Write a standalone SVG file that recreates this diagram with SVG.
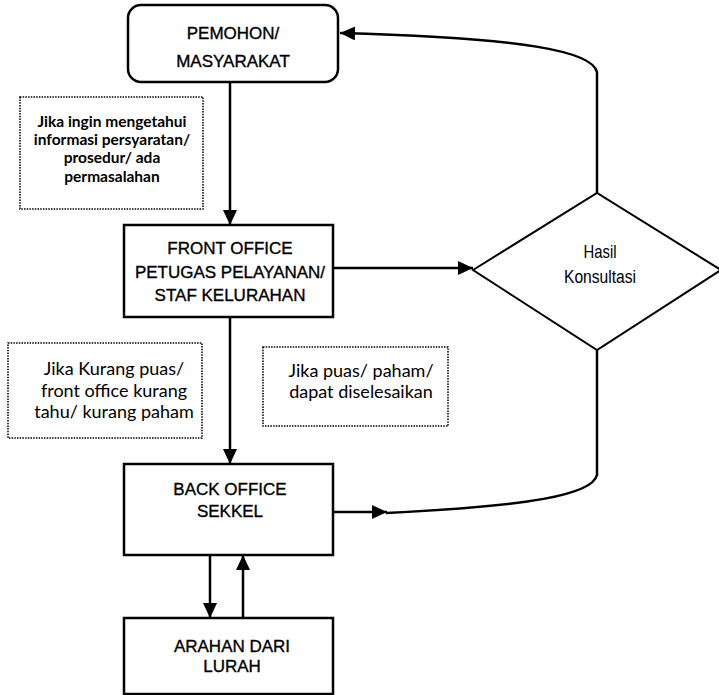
<svg xmlns="http://www.w3.org/2000/svg" width="719" height="695" viewBox="0 0 719 695">
  <style>
    .box { fill: #fff; stroke: #000; stroke-width: 2.5; }
    .note { fill: #fff; stroke: #000; stroke-width: 1.5; stroke-dasharray: 1.5 1.2; }
    .dia { fill: #fff; stroke: #000; stroke-width: 2; }
    .lbl { font-family: "Liberation Sans", Arial, sans-serif; font-size: 17px; fill: #000; stroke: #000; stroke-width: 0.35; text-anchor: middle; }
    .ntxt { font-family: Lato, "Liberation Sans", sans-serif; font-size: 18px; fill: #000; text-anchor: middle; }
    .nb { font-weight: bold; font-size: 15.5px; }
    .dtxt { font-family: "Liberation Sans", Arial, sans-serif; font-size: 19px; fill: #000; text-anchor: middle; }
    .con { fill: none; stroke: #000; stroke-width: 2.5; }
  </style>
  <defs>
    <marker id="arrow" markerUnits="userSpaceOnUse" markerWidth="16" markerHeight="14" refX="15" refY="7" orient="auto">
      <path d="M0,0 L15,7 L0,14 Z" fill="#000"/>
    </marker>
  </defs>

  <rect width="719" height="695" fill="#fff"/>

  <!-- connectors -->
  <g id="connectors">
    <line class="con" x1="230" y1="82" x2="230" y2="225" marker-end="url(#arrow)"/>
    <line class="con" x1="333" y1="268" x2="473" y2="268" marker-end="url(#arrow)"/>
    <path class="con" d="M597,193 L597,72 C592,52 530,38 340,33" marker-end="url(#arrow)"/>
    <line class="con" x1="230" y1="317" x2="230" y2="464" marker-end="url(#arrow)"/>
    <line class="con" x1="333" y1="512" x2="387" y2="512" marker-end="url(#arrow)"/>
    <path class="con" d="M597,350 L597,475 C592,495 530,506 386,513"/>
    <line class="con" x1="210" y1="555" x2="210" y2="618" marker-end="url(#arrow)"/>
    <line class="con" x1="243" y1="618" x2="243" y2="555" marker-end="url(#arrow)"/>
  </g>

  <!-- nodes -->
  <g id="pemohon">
    <rect class="box" x="128" y="5" width="210" height="77" rx="13"/>
    <text class="lbl" x="233" y="39">PEMOHON/</text>
    <text class="lbl" x="233" y="67">MASYARAKAT</text>
  </g>

  <g id="note-info">
    <rect class="note" x="20" y="97" width="183" height="112"/>
    <text class="ntxt nb" x="112" y="127">Jika ingin mengetahui</text>
    <text class="ntxt nb" x="112" y="145">informasi persyaratan/</text>
    <text class="ntxt nb" x="112" y="163">prosedur/ ada</text>
    <text class="ntxt nb" x="112" y="182">permasalahan</text>
  </g>

  <g id="front-office">
    <rect class="box" x="124" y="225" width="209" height="92"/>
    <text class="lbl" x="230" y="254">FRONT OFFICE</text>
    <text class="lbl" x="230" y="278">PETUGAS PELAYANAN/</text>
    <text class="lbl" x="230" y="301">STAF KELURAHAN</text>
  </g>

  <g id="hasil-konsultasi">
    <polygon class="dia" points="473,270 597,193 721,270 597,350"/>
    <text class="dtxt" x="600" y="258" textLength="33" lengthAdjust="spacingAndGlyphs">Hasil</text>
    <text class="dtxt" x="600" y="283" textLength="72" lengthAdjust="spacingAndGlyphs">Konsultasi</text>
  </g>

  <g id="note-kurang">
    <rect class="note" x="8" y="343" width="194" height="95"/>
    <text class="ntxt" x="114" y="375">Jika Kurang puas/</text>
    <text class="ntxt" x="114" y="397">front office kurang</text>
    <text class="ntxt" x="114" y="418">tahu/ kurang paham</text>
  </g>

  <g id="note-puas">
    <rect class="note" x="263" y="347" width="185" height="79"/>
    <text class="ntxt" x="361" y="377">Jika puas/ paham/</text>
    <text class="ntxt" x="361" y="398">dapat diselesaikan</text>
  </g>

  <g id="back-office">
    <rect class="box" x="124" y="464" width="209" height="91"/>
    <text class="lbl" x="230" y="495">BACK OFFICE</text>
    <text class="lbl" x="230" y="517">SEKKEL</text>
  </g>

  <g id="arahan-lurah">
    <rect class="box" x="124" y="618" width="209" height="76"/>
    <text class="lbl" x="232" y="652">ARAHAN DARI</text>
    <text class="lbl" x="232" y="672">LURAH</text>
  </g>
</svg>
